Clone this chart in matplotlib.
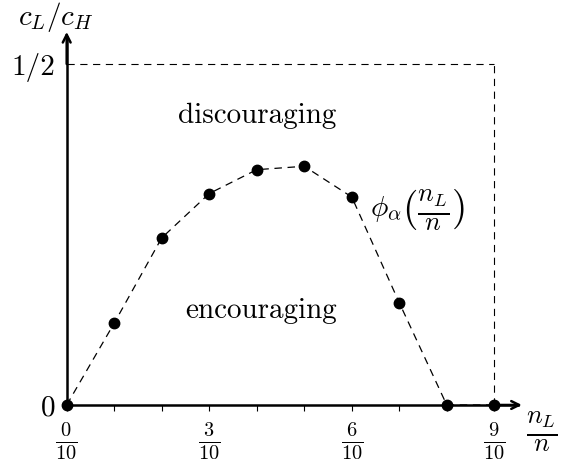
import numpy as np
from matplotlib import pyplot as plt

plt.rcParams['mathtext.fontset'] = 'cm'
plt.rcParams['font.family'] = 'serif'
plt.rcParams['font.serif'] = ['cmr10']
plt.rcParams['axes.formatter.use_mathtext'] = True

# share of low types n_L/n and the threshold ratio phi_alpha
share = [0.0, 0.1, 0.2, 0.3, 0.4, 0.5, 0.6, 0.7, 0.8, 0.9]
phi = [0.0, 0.12, 0.245, 0.31, 0.345, 0.35, 0.305, 0.15, 0.0, 0.0]

x_ticks = [0.0, 0.1, 0.2, 0.3, 0.4, 0.5, 0.6, 0.7, 0.8, 0.9]
x_tick_labels = [r'$\frac{0}{10}$', '', '', r'$\frac{3}{10}$', '', '',
                 r'$\frac{6}{10}$', '', '', r'$\frac{9}{10}$']
y_ticks = [0.0, 0.5]
y_tick_labels = ['0', '1/2']
x_max = 0.9
y_max = 0.5

fs = 21

fig = plt.figure(figsize=(5.7, 4.65), dpi=100)
ax = fig.add_axes([0, 0, 1, 1])
ax.set_xlim(-0.1404, 1.0594)
ax.set_ylim(-0.088, 0.5938)

# axes through the origin with arrow tips
for side in ['top', 'right']:
    ax.spines[side].set_visible(False)
ax.spines['left'].set_position(('data', 0))
ax.spines['bottom'].set_position(('data', 0))
ax.spines['left'].set_bounds(0, 0.54)
ax.spines['bottom'].set_bounds(0, 0.95)
ax.spines['left'].set_linewidth(1.8)
ax.spines['bottom'].set_linewidth(1.8)
ax.annotate('', xy=(0.958, 0), xytext=(0.9, 0),
            arrowprops=dict(arrowstyle='->', lw=1.8, color='black',
                            shrinkA=0, shrinkB=0, mutation_scale=14))
ax.annotate('', xy=(0, 0.547), xytext=(0, 0.5),
            arrowprops=dict(arrowstyle='->', lw=1.8, color='black',
                            shrinkA=0, shrinkB=0, mutation_scale=14))

ax.set_xticks(x_ticks)
ax.set_xticklabels(x_tick_labels, fontsize=fs)
ax.tick_params(axis='x', direction='out', length=4.5, width=0.8, pad=7)
ax.set_yticks(y_ticks)
ax.set_yticklabels(y_tick_labels, fontsize=fs)
ax.tick_params(axis='y', direction='in', length=0, pad=8)

# bounding box of the feasible region
ax.plot([0, x_max], [y_max, y_max], color='black', lw=0.8, ls=(0, (6.5, 5)))
ax.plot([x_max, x_max], [0, y_max], color='black', lw=0.8, ls=(0, (6.5, 5)))

# threshold curve
ax.plot(share, phi, color='black', lw=0.9, ls=(0, (6, 4.5)), zorder=4)
ax.plot(share, phi, 'o', color='black', markersize=7.5, clip_on=False, zorder=5)

ax.text(-0.0225, 0.569, r'$c_L/c_H$', fontsize=fs, ha='center', va='center')
ax.text(1.0, -0.04, r'$\frac{n_L}{n}$', fontsize=27, ha='center', va='center')
ax.text(0.40, 0.424, 'discouraging', fontsize=fs, ha='center', va='center')
ax.text(0.41, 0.138, 'encouraging', fontsize=fs, ha='center', va='center')
ax.text(0.638, 0.287, r'$\phi_\alpha$', fontsize=fs, ha='left', va='center')
ax.text(0.706, 0.287, r'$\left(\frac{n_L}{n}\right)$', fontsize=27,
        ha='left', va='center')

fig.savefig('out.png', dpi=100)
